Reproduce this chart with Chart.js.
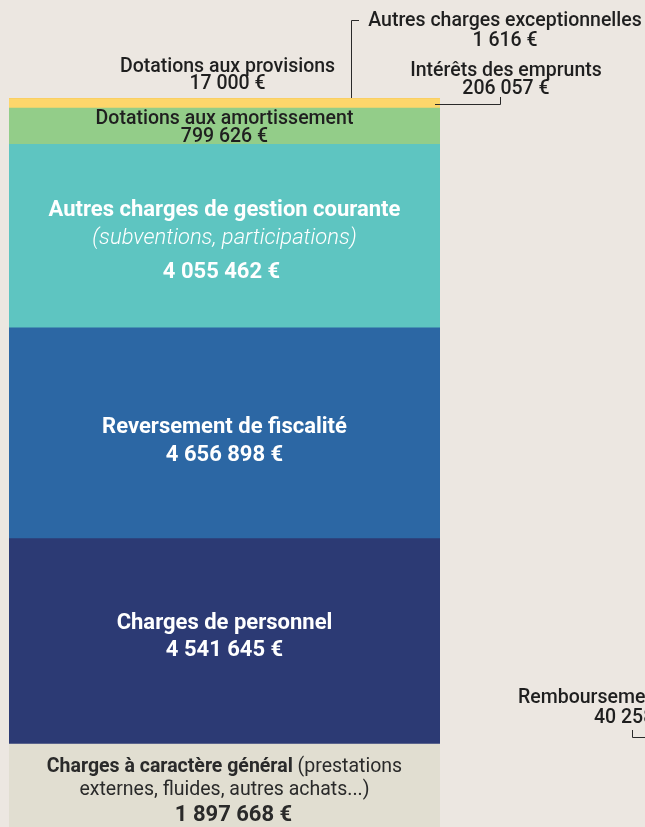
<!DOCTYPE html>
<html>
<head>
<meta charset="utf-8">
<script src="https://cdn.jsdelivr.net/npm/chart.js@4.4.1/dist/chart.umd.min.js"></script>
<style>
  html, body { margin: 0; padding: 0; background: #ece7e1; overflow: hidden; }
  #wrap { width: 645px; height: 827px; overflow: hidden; }
</style>
</head>
<body>
<div id="wrap"><canvas id="chart" width="645" height="830"></canvas></div>
<script>
// one stacked column, bottom to top
const categories = ['Dépenses de fonctionnement']
const segmentNames = [
  'Charges à caractère général',
  'Charges de personnel',
  'Reversement de fiscalité',
  'Autres charges de gestion courante',
  'Dotations aux amortissement',
  'Intérêts des emprunts',
  'Dotations aux provisions',
  'Autres charges exceptionnelles',
]
const segmentValues = [1897668, 4541645, 4656898, 4055462, 799626, 206057, 17000, 1616]
const segmentColors = ['#e1ded1', '#2c3a74', '#2c67a4', '#5ec5c1', '#93cd89', '#fdd66b', '#f6c95a', '#f6c95a']
const remboursementValue = 40258

function euros(v) {
  return String(v).replace(/\B(?=(\d{3})+(?!\d))/g, ' ') + ' €'
}

const DARK = '#1f1f1f'
const F_TOP = '500 19.5px Roboto'
const F_IN = '700 22px Roboto'

// label lines for segments drawn inside the bar (offset from segment middle)
const inside = {
  0: [
    {parts: [['700 19.5px Roboto', 'Charges à caractère général'], ['400 19.5px Roboto', ' (prestations']], dy: -20, color: '#2a2a2a'},
    {parts: [['400 19.5px Roboto', 'externes, fluides, autres achats...)']], dy: 3, color: '#2a2a2a'},
    {parts: [['700 22px Roboto', euros(segmentValues[0])]], dy: 28, dx: 9, color: '#2a2a2a'},
  ],
  1: [
    {parts: [[F_IN, segmentNames[1]]], dy: -18, color: '#fff'},
    {parts: [[F_IN, euros(segmentValues[1])]], dy: 9, color: '#fff'},
  ],
  2: [
    {parts: [[F_IN, segmentNames[2]]], dy: -6, color: '#fff'},
    {parts: [[F_IN, euros(segmentValues[2])]], dy: 22, color: '#fff'},
  ],
  3: [
    {parts: [[F_IN, segmentNames[3]]], dy: -26, color: '#fff'},
    {parts: [['italic 300 22px Roboto', '(subventions, participations)']], dy: 2, color: '#fff'},
    {parts: [[F_IN, euros(segmentValues[3])]], dy: 36, dx: -3, color: '#fff'},
  ],
  4: [
    {parts: [[F_TOP, segmentNames[4]]], dy: -7, color: DARK},
    {parts: [[F_TOP, euros(segmentValues[4])]], dy: 11, color: DARK},
  ],
}

function drawLine(ctx, x, y, line, align) {
  let total = 0
  line.parts.forEach(([f, t]) => { ctx.font = f; total += ctx.measureText(t).width })
  let cx = (align === 'left' ? x : x - total / 2) + (line.dx || 0)
  ctx.fillStyle = line.color
  ctx.textAlign = 'left'
  line.parts.forEach(([f, t]) => {
    ctx.font = f
    ctx.fillText(t, cx, y)
    cx += ctx.measureText(t).width
  })
}

const labelPlugin = {
  id: 'labels',
  afterDatasetsDraw(chart) {
    const ctx = chart.ctx
    ctx.save()
    ctx.textBaseline = 'middle'
    Object.keys(inside).forEach((i) => {
      const el = chart.getDatasetMeta(+i).data[0]
      const mid = (el.y + el.base) / 2
      inside[i].forEach((line) => drawLine(ctx, el.x, mid + line.dy, line))
    })

    const bar = chart.getDatasetMeta(5).data[0]
    const top = chart.getDatasetMeta(7).data[0].y
    const right = bar.x + bar.width / 2
    const mk = (t) => ({parts: [[F_TOP, t]], color: DARK})

    // Dotations aux provisions, above the bar
    drawLine(ctx, bar.x + 3, top - 31, mk(segmentNames[6]))
    drawLine(ctx, bar.x + 3, top - 14, mk(euros(segmentValues[6])))
    // Autres charges exceptionnelles
    drawLine(ctx, right + 65, top - 77, mk(segmentNames[7]))
    drawLine(ctx, right + 65, top - 57, mk(euros(segmentValues[7])))
    // Intérêts des emprunts
    drawLine(ctx, right + 66, top - 27, mk(segmentNames[5]))
    drawLine(ctx, right + 66, top - 9, mk(euros(segmentValues[5])))
    // Remboursement (next column, out of frame)
    drawLine(ctx, right + 78, 698, mk('Remboursement des emprunts'), 'left')
    drawLine(ctx, right + 154, 718, mk(euros(remboursementValue)), 'left')

    ctx.strokeStyle = '#2a2a2a'
    ctx.lineWidth = 1
    ctx.beginPath()
    ctx.moveTo(351.5, top)
    ctx.lineTo(351.5, top - 77.5)
    ctx.lineTo(359, top - 77.5)
    const iy = (bar.y + bar.base) / 2
    ctx.moveTo(right - 5, Math.round(iy) + 0.5)
    ctx.lineTo(right + 60.5, Math.round(iy) + 0.5)
    ctx.lineTo(right + 60.5, top - 1)
    ctx.moveTo(right + 192.5, 730)
    ctx.lineTo(right + 192.5, 737.5)
    ctx.lineTo(right + 210, 737.5)
    ctx.stroke()
    ctx.restore()
  }
}

new Chart(document.getElementById('chart'), {
  type: 'bar',
  data: {
    labels: categories,
    datasets: segmentNames.map((name, i) => ({
      label: name,
      data: [segmentValues[i]],
      backgroundColor: segmentColors[i],
      borderWidth: 0,
      barPercentage: 1,
      categoryPercentage: 1,
    })),
  },
  options: {
    responsive: false,
    animation: false,
    events: [],
    layout: { padding: { top: 98, left: 9, right: 205, bottom: 0 } },
    plugins: { legend: { display: false }, tooltip: { enabled: false } },
    scales: {
      x: { stacked: true, display: false },
      y: { stacked: true, display: false, min: 0, max: segmentValues.reduce((a, b) => a + b, 0) },
    },
  },
  plugins: [labelPlugin],
})
</script>
</body>
</html>
